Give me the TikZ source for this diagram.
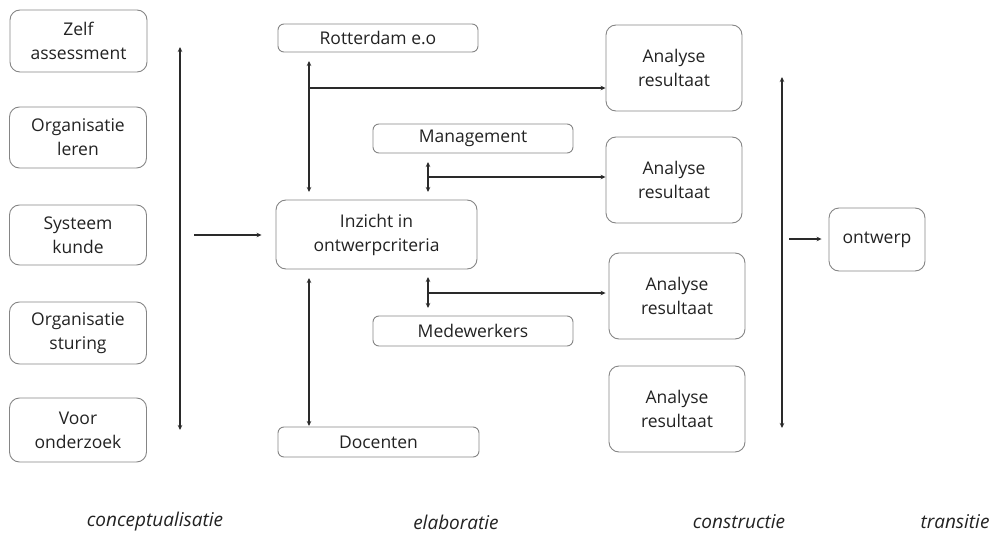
\documentclass[tikz,border=0pt]{standalone}
\usepackage{fontspec}
\setmainfont{Open Sans}
\usetikzlibrary{arrows.meta}
\definecolor{txt}{HTML}{222222}
\definecolor{edge}{HTML}{858585}
\definecolor{wire}{HTML}{2A2A2A}
\begin{document}
\begin{tikzpicture}[x=1pt,y=-1pt,
  font=\fontsize{17.5}{24}\selectfont,
  box/.style={draw=edge,line width=0.9pt,rounded corners=10pt,text=txt,
    align=center,inner sep=0pt},
  bar/.style={draw=edge,line width=0.9pt,rounded corners=6pt,text=txt,
    align=center,inner sep=0pt},
  phase/.style={text=txt,font=\fontsize{19}{24}\selectfont\itshape},
  link/.style={draw=wire,line width=1.1pt,-{Stealth[length=5pt,width=4.5pt]}},
  both/.style={draw=wire,line width=1.1pt,{Stealth[length=5pt,width=4.5pt]}-{Stealth[length=5pt,width=4.5pt]}}]
\useasboundingbox (0,0) rectangle (991,535);

% conceptualisatie: theory boxes
\node[box,minimum width=137pt,minimum height=62pt] (zelf) at (78.5,41) {Zelf\\assessment};
\node[box,minimum width=137pt,minimum height=61pt] (leren) at (78,137.5) {Organisatie\\leren};
\node[box,minimum width=137pt,minimum height=60pt] (sys) at (78,235) {Systeem\\kunde};
\node[box,minimum width=137pt,minimum height=62pt] (sturing) at (78,333) {Organisatie\\sturing};
\node[box,minimum width=137pt,minimum height=64pt] (voor) at (78,430) {Voor\\onderzoek};

\coordinate (c1top) at (180,47);
\coordinate (c1bot) at (180,430);
\draw[both] (c1top) -- (c1bot);
\coordinate (c1out) at (194,235);

% elaboratie
\node[bar,minimum width=200pt,minimum height=28pt] (rot) at (378,38) {Rotterdam e.o};
\node[bar,minimum width=200pt,minimum height=29pt] (man) at (473,138.5) {Management};
\node[box,minimum width=201pt,minimum height=69pt] (inz) at (376.5,234.5) {Inzicht in\\ontwerpcriteria};
\node[bar,minimum width=200pt,minimum height=30pt] (mede) at (473,331) {Medewerkers};
\node[bar,minimum width=201pt,minimum height=30pt] (doc) at (378.5,442) {Docenten};

\draw[link] (c1out) -- ([xshift=-14pt]inz.west |- c1out);

% constructie
\node[box,minimum width=136pt,minimum height=86pt] (an1) at (674,68) {Analyse\\resultaat};
\node[box,minimum width=136pt,minimum height=86pt] (an2) at (674,180) {Analyse\\resultaat};
\node[box,minimum width=136pt,minimum height=86pt] (an3) at (677,296) {Analyse\\resultaat};
\node[box,minimum width=136pt,minimum height=86pt] (an4) at (677,409) {Analyse\\resultaat};

% links between stakeholders and the criteria
\coordinate (rtop) at (309,61);
\coordinate (rbot) at (309,192);
\coordinate (rbr) at (309,88);
\draw[both] (rtop) -- (rbot);
\draw[link] (rbr) -- (rbr -| an1.west);

\coordinate (mtop) at (428,162);
\coordinate (mbot) at (428,192);
\coordinate (mbr) at (428,177);
\draw[both] (mtop) -- (mbot);
\draw[link] (mbr) -- (mbr -| an2.west);

\coordinate (wtop) at (428,277);
\coordinate (wbot) at (428,308);
\coordinate (wbr) at (428,293);
\draw[both] (wtop) -- (wbot);
\draw[link] (wbr) -- ([xshift=-3pt]wbr -| an3.west);

\coordinate (dtop) at (309,278);
\coordinate (dbot) at (309,426);
\draw[both] (dtop) -- (dbot);

% transitie
\node[box,minimum width=96pt,minimum height=63pt] (ontw) at (877,239.5) {ontwerp};
\coordinate (c3top) at (782,77);
\coordinate (c3bot) at (782,428);
\draw[both] (c3top) -- (c3bot);
\coordinate (c3out) at (789,239);
\draw[link] (c3out) -- ([xshift=-7pt]ontw.west |- c3out);

% phase labels
\node[phase] (p1) at (155,522) {conceptualisatie};
\node[phase] (p2) at (456,522) {elaboratie};
\node[phase] (p3) at (739,522) {constructie};
\node[phase] (p4) at (955,522) {transitie};
\end{tikzpicture}
\end{document}
